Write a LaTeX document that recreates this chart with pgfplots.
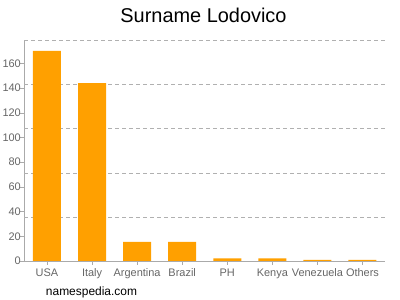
\documentclass[border=0pt]{standalone}
\usepackage{pgfplots}
\pgfplotsset{compat=1.18}
\usepackage{fontspec}
\setmainfont{Liberation Sans}
\definecolor{barorange}{HTML}{FFA000}
\definecolor{axgray}{HTML}{AAAAAA}
\definecolor{gridgray}{HTML}{B0B0B0}
\definecolor{txtgray}{HTML}{666666}
\begin{document}
\begin{tikzpicture}[x=1bp,y=1bp]
\path[use as bounding box] (0,0) rectangle (400,300);
\begin{axis}[
  at={(24bp,39bp)}, anchor=south west,
  scale only axis, width=361bp, height=220.5bp,
  xmin=-0.51, xmax=7.5, ymin=0, ymax=178.5,
  axis lines=left,
  axis line style={draw=axgray, -},
  ybar, bar width=28bp,
  xtick={0,1,2,3,4,5,6,7},
  xticklabels={USA,Italy,Argentina,Brazil,PH,Kenya,Venezuela,Others},
  ytick={0,20,40,60,80,100,120,140,160},
  tick style={draw=axgray},
  tick align=outside,
  major tick length=4bp,
  ticklabel style={font=\fontsize{11}{13}\selectfont, text=txtgray},
  yticklabel style={inner sep=0pt, xshift=1bp},
  /pgf/number format/assume math mode=true,
  extra y ticks={35.7,71.4,107.1,142.8,178.5},
  extra y tick labels={},
  extra y tick style={grid=major, major grid style={draw=gridgray, dash pattern=on 4bp off 3bp}, tick style={draw=none}},
  clip=false,
]
\addplot[fill=barorange, draw=none] coordinates {(0,170) (1,144) (2,15.5) (3,15.5) (4,2.2) (5,2.2) (6,1) (7,1)};
\end{axis}
\node[font=\fontsize{20}{24}\selectfont] at (203.5,285) {Surname Lodovico};
\node[font=\fontsize{12}{14}\selectfont] at (91.5,8) {namespedia.com};
\end{tikzpicture}
\end{document}
